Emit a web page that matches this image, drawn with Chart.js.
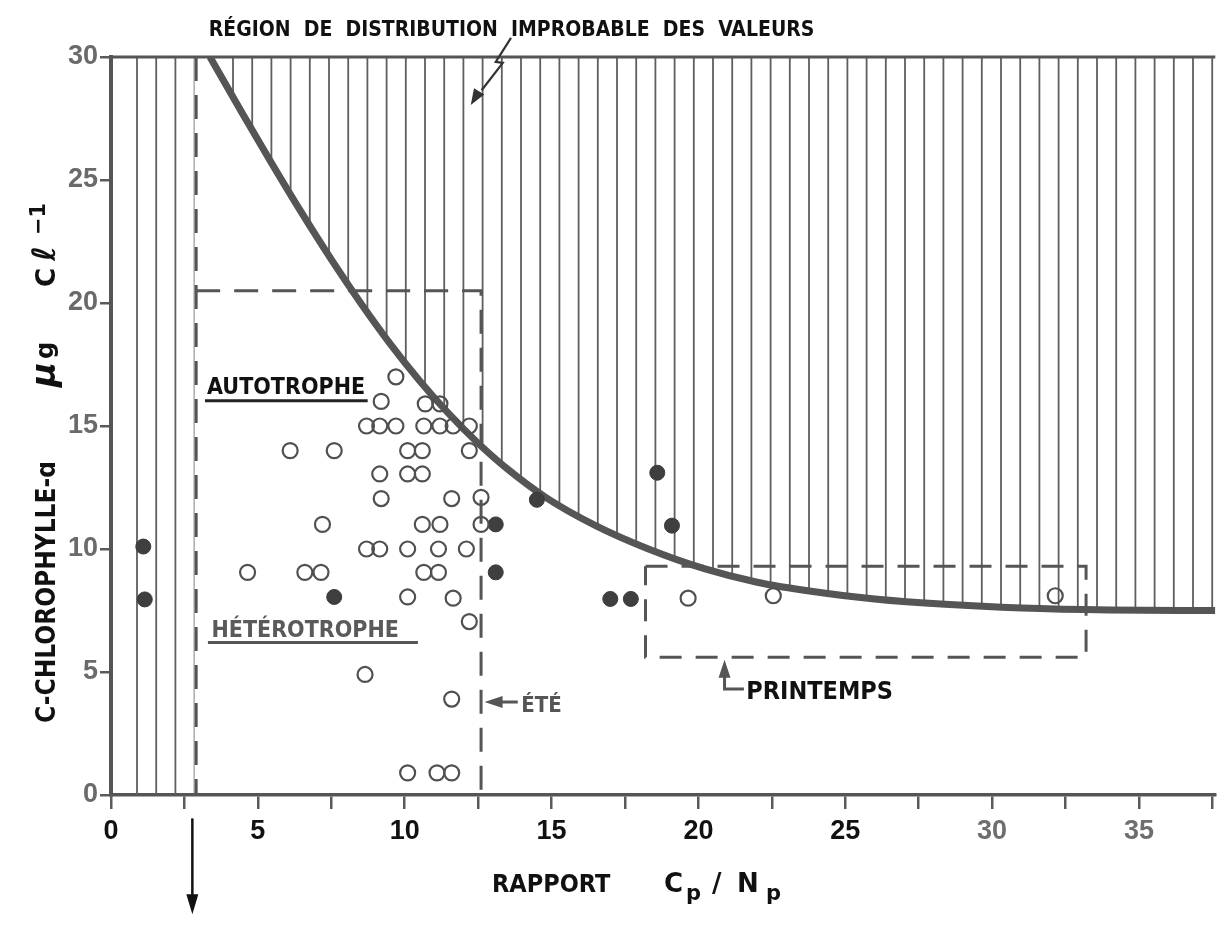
<!DOCTYPE html>
<html><head><meta charset="utf-8">
<script src="https://cdn.jsdelivr.net/npm/chart.js@4/dist/chart.umd.min.js"></script>
<style>html,body{margin:0;padding:0;background:#fff;overflow:hidden}</style>
</head><body>
<canvas id="c" width="1225" height="932"></canvas>
<script>
// ---- data ----
const xRange = [0, 37.6];
const yRange = [0, 30];
const xTickStep = 2.5;
const yTickStep = 5;

// boundary curve of the improbable region
const curveX = [3.37, 4.5, 5.5, 6.5, 7.5, 8.5, 9.5, 10.5, 11.5, 12.5, 13.5, 14.8, 16.5, 18.3, 20.2, 22.0, 23.9, 26.0, 28.4, 31.0, 34.0, 37.6];
const curveY = [30, 27.65, 25.62, 23.65, 21.77, 20.0, 18.35, 16.85, 15.5, 14.3, 13.25, 12.1, 10.95, 10.0, 9.2, 8.65, 8.27, 7.97, 7.75, 7.6, 7.52, 7.5];

// hatched band at the left (x range)
const hatchLeftX = [0.3, 2.85];

// open circles
const openX = [9.7, 9.2, 10.7, 11.2,
  8.7, 9.15, 9.7, 10.65, 11.2, 11.65, 12.2,
  6.1, 7.6, 10.1, 10.6, 12.2,
  9.15, 10.1, 10.6,
  9.2, 11.6, 12.6,
  7.2, 10.6, 11.2, 12.6,
  8.7, 9.15, 10.1, 11.15, 12.1,
  4.65, 6.6, 7.15, 10.65, 11.15,
  10.1, 11.65, 12.2, 8.65, 11.6,
  10.1, 11.1, 11.6,
  19.65, 22.55, 32.15];
const openY = [17.0, 16.0, 15.9, 15.9,
  15, 15, 15, 15, 15, 15, 15,
  14, 14, 14, 14, 14,
  13.05, 13.05, 13.05,
  12.05, 12.05, 12.1,
  11, 11, 11, 11,
  10, 10, 10, 10, 10,
  9.05, 9.05, 9.05, 9.05, 9.05,
  8.05, 8.0, 7.05, 4.9, 3.9,
  0.9, 0.9, 0.9,
  8.0, 8.1, 8.1];

// filled circles
const filledX = [1.1, 1.15, 7.6, 13.1, 13.1, 14.5, 17.0, 17.7, 18.6, 19.1];
const filledY = [10.1, 7.95, 8.05, 11.0, 9.05, 12.0, 7.97, 7.97, 13.1, 10.95];

// dashed boxes
const summerBoxX = [2.9, 12.6];
const summerBoxY = [0, 20.5];
const summerLeftLineY = [0, 30];
const springBoxX = [18.2, 33.2];
const springBoxY = [5.6, 9.3];

// ---- helpers ----
const pts = (xs, ys) => xs.map((x, i) => ({x: x, y: ys[i]}));
const canvas = document.getElementById('c');
const mainCtx = canvas.getContext('2d');

function hatchPattern() {
  const t = document.createElement('canvas');
  t.width = 96; t.height = 8;
  const g = t.getContext('2d');
  g.strokeStyle = '#5e5e5e';
  g.lineWidth = 1.8;
  [2.6, 21.8, 41, 60.2, 79.4].forEach(o => {
    g.beginPath(); g.moveTo(o, 0); g.lineTo(o, 8); g.stroke();
  });
  return mainCtx.createPattern(t, 'repeat');
}
const hatch = hatchPattern();

const INK = '#555';
const dashStyle = {borderColor: INK, borderWidth: 3, pointRadius: 0, fill: false, showLine: true, type: 'line', order: 2};

function text(ctx, s, x, y, font, color, maxW) {
  ctx.font = font; ctx.fillStyle = color; ctx.textBaseline = 'alphabetic'; ctx.textAlign = 'left';
  if (maxW) ctx.fillText(s, x, y, maxW); else ctx.fillText(s, x, y);
}
function line(ctx, p, w, color) {
  ctx.beginPath(); ctx.moveTo(p[0][0], p[0][1]);
  for (let i = 1; i < p.length; i++) ctx.lineTo(p[i][0], p[i][1]);
  ctx.lineWidth = w; ctx.strokeStyle = color; ctx.setLineDash([]); ctx.stroke();
}
function head(ctx, tip, dx, dy, len, half, color) {
  const n = Math.hypot(dx, dy); dx /= n; dy /= n;
  const bx = tip[0] - dx * len, by = tip[1] - dy * len;
  ctx.beginPath();
  ctx.moveTo(tip[0], tip[1]);
  ctx.lineTo(bx - dy * half, by + dx * half);
  ctx.lineTo(bx + dy * half, by - dx * half);
  ctx.closePath(); ctx.fillStyle = color; ctx.fill();
}

const annotations = {
  id: 'annotations',
  afterDatasetsDraw(chart) {
    const ctx = chart.ctx, xs = chart.scales.x, ys = chart.scales.y, a = chart.chartArea;
    const X = v => xs.getPixelForValue(v), Y = v => ys.getPixelForValue(v);
    ctx.save();
    // top frame line at y = 30
    line(ctx, [[a.left, Y(30)], [a.right, Y(30)]], 3, INK);

    // labels inside the plot (positions in data units)
    text(ctx, 'AUTOTROPHE', X(3.27), Y(16.3), '700 23px "DejaVu Sans Condensed","DejaVu Sans"', '#111', 160);
    line(ctx, [[X(3.2), Y(16.03)], [X(8.74), Y(16.03)]], 3, '#222');
    text(ctx, 'HÉTÉROTROPHE', X(3.42), Y(6.42), '600 23px "DejaVu Sans Condensed","DejaVu Sans"', '#5a5a5a', 204);
    line(ctx, [[X(3.3), Y(6.2)], [X(10.45), Y(6.2)]], 3, '#555');

    text(ctx, 'ÉTÉ', X(13.97), Y(3.37), '700 22px "DejaVu Sans Condensed","DejaVu Sans"', '#555', 48);
    line(ctx, [[X(13.85), Y(3.78)], [X(13.2), Y(3.78)]], 3, '#555');
    head(ctx, [X(12.72), Y(3.78)], -1, 0, 18, 6, '#555');

    text(ctx, 'PRINTEMPS', X(21.63), Y(3.92), '700 25px "DejaVu Sans Condensed","DejaVu Sans"', '#111', 153);
    line(ctx, [[X(20.89), Y(5.0)], [X(20.89), Y(4.31)], [X(21.55), Y(4.31)]], 3, '#555');
    head(ctx, [X(20.89), Y(5.5)], 0, -1, 18, 6, '#555');

    // arrow below the axis
    line(ctx, [[X(2.77), Y(-0.95)], [X(2.77), Y(-4.4)]], 2.5, '#111');
    head(ctx, [X(2.77), Y(-4.85)], 0, 1, 20, 6, '#111');

    // title above the plot and its zigzag arrow
    text(ctx, 'RÉGION  DE  DISTRIBUTION  IMPROBABLE  DES  VALEURS', X(3.33), Y(30.87), '700 21px "DejaVu Sans Condensed","DejaVu Sans"', '#111', 607);
    line(ctx, [[X(13.62), Y(30.78)], [X(13.1), Y(29.8)], [X(13.34), Y(29.76)], [X(12.62), Y(28.65)]], 2.2, '#333');
    head(ctx, [X(12.25), Y(28.05)], -0.55, 0.9, 16, 6, '#333');

    // y axis title (rotated)
    ctx.translate(55, Y(2.93));
    ctx.rotate(-Math.PI / 2);
    text(ctx, 'C-CHLOROPHYLLE-ɑ', 0, 0, '700 26px "DejaVu Sans Condensed","DejaVu Sans"', '#111', 321);
    text(ctx, 'μ', 336, 0, 'italic 700 34px "DejaVu Sans"', '#111');
    text(ctx, 'g', 364, -2, '700 24px "DejaVu Sans"', '#111');
    text(ctx, 'C', 436, 0, '700 26px "DejaVu Sans"', '#111', 22);
    text(ctx, 'ℓ', 462, 0, 'italic 700 32px "DejaVu Serif","DejaVu Sans"', '#111');
    text(ctx, '−1', 488, -10, '700 22px "DejaVu Sans"', '#111', 32);
    ctx.setTransform(1, 0, 0, 1, 0, 0);

    // x axis title
    const by = Y(-3.95);
    text(ctx, 'RAPPORT', 492, by, '700 25px "DejaVu Sans Condensed","DejaVu Sans"', '#111', 134);
    text(ctx, 'C', 664, by, '700 26px "DejaVu Sans"', '#111');
    text(ctx, 'p', 686, by + 8, '700 21px "DejaVu Sans"', '#111');
    text(ctx, '/', 712, by, '700 26px "DejaVu Sans"', '#111');
    text(ctx, 'N', 737, by, '700 26px "DejaVu Sans"', '#111');
    text(ctx, 'p', 766, by + 8, '700 21px "DejaVu Sans"', '#111');
    ctx.restore();
  }
};

new Chart(canvas, {
  type: 'scatter',
  data: {
    datasets: [
      {label: 'ouverts', data: pts(openX, openY), pointRadius: 7.5, pointBorderWidth: 2.2,
       pointBorderColor: '#505050', pointBackgroundColor: 'rgba(255,255,255,0)', order: 0},
      {label: 'pleins', data: pts(filledX, filledY), pointRadius: 7.5, pointBorderWidth: 1,
       pointBorderColor: '#3a3a3a', pointBackgroundColor: '#3f3f3f', order: 0},
      {label: 'courbe', type: 'line', data: pts(curveX, curveY), borderColor: INK, borderWidth: 7,
       pointRadius: 0, cubicInterpolationMode: 'monotone', fill: 'end', backgroundColor: hatch, order: 3},
      {label: 'bande', type: 'line', data: pts(hatchLeftX, [yRange[1], yRange[1]]), borderWidth: 0,
       pointRadius: 0, fill: 'start', backgroundColor: hatch, order: 4},
      Object.assign({label: 'été gauche', data: pts([summerBoxX[0], summerBoxX[0]], [summerLeftLineY[1], summerLeftLineY[0]]), borderDash: [24, 14]}, dashStyle),
      Object.assign({label: 'été', data: pts([summerBoxX[0], summerBoxX[1], summerBoxX[1]], [summerBoxY[1], summerBoxY[1], summerBoxY[0]]), borderDash: [24, 14]}, dashStyle),
      Object.assign({label: 'printemps', data: pts([springBoxX[0], springBoxX[1], springBoxX[1], springBoxX[0], springBoxX[0]], [springBoxY[1], springBoxY[1], springBoxY[0], springBoxY[0], springBoxY[1]]), borderDash: [22, 14]}, dashStyle)
    ]
  },
  options: {
    responsive: false,
    devicePixelRatio: 1,
    animation: false,
    layout: {padding: {top: 57, right: 0, bottom: 77, left: 0}},
    plugins: {legend: {display: false}, tooltip: {enabled: false}},
    scales: {
      x: {
        type: 'linear', position: 'bottom', min: xRange[0], max: xRange[1],
        afterFit: s => { s.height = 60; },
        ticks: {
          stepSize: xTickStep, includeBounds: false, autoSkip: false, maxRotation: 0, padding: 6,
          callback: v => (v % 5 === 0 ? String(v) : ''),
          font: {family: '"Liberation Sans", Arial', weight: 'bold', size: 27},
          color: c => (c.tick && c.tick.value >= 30 ? '#6e6e6e' : '#111')
        },
        grid: {drawOnChartArea: false, drawTicks: true, tickLength: 14, color: '#5a5a5a', lineWidth: 2.5},
        border: {display: true, color: INK, width: 3.5}
      },
      y: {
        type: 'linear', min: yRange[0], max: yRange[1],
        afterFit: s => { s.width = 111; },
        ticks: {
          stepSize: yTickStep, includeBounds: false, padding: 2,
          font: {family: '"Liberation Sans", Arial', weight: 'bold', size: 27},
          color: '#6a6a6a'
        },
        grid: {drawOnChartArea: false, drawTicks: true, tickLength: 11, color: '#5a5a5a', lineWidth: 2.5},
        border: {display: true, color: INK, width: 4}
      }
    }
  },
  plugins: [annotations]
});
</script>
</body></html>
